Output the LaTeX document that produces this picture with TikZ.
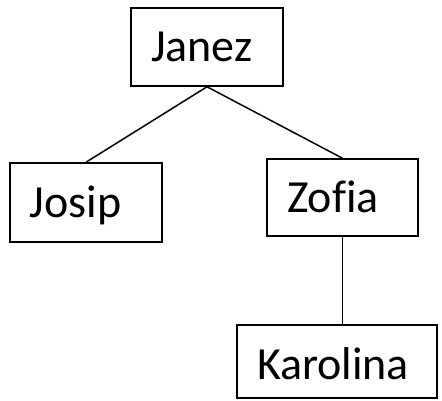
\documentclass[tikz,border=0pt]{standalone}
\usepackage{fontspec}
\setmainfont{Carlito}[Ligatures=NoCommon]
\begin{document}
\begin{tikzpicture}[x=1pt,y=1pt,
  person/.style={draw=black, line width=1.5pt, fill=white, rectangle,
    inner xsep=20pt, inner ysep=0pt, align=left,
    font=\fontsize{46}{54}\selectfont, text height=29.6pt, text depth=0pt},
  link/.style={draw=black, line width=1.5pt}]
\useasboundingbox (0,0) rectangle (442,400);
\node[person, minimum width=152pt, minimum height=78pt, text width=112pt] (janez) at (207,353) {Janez};
\node[person, minimum width=152pt, minimum height=79pt, text width=112pt] (josip) at (86,197.5) {Josip};
\node[person, minimum width=151pt, minimum height=77pt, text width=111pt] (zofia) at (342.5,202.5) {Zofia};
\node[person, minimum width=200pt, minimum height=73pt, text width=160pt, text height=36.6pt] (karolina) at (337,38.5) {Karolina};
\draw[link] (janez.south) -- (josip.north);
\draw[link] (janez.south) -- (zofia.north);
\draw[link] (zofia.south) -- (zofia.south |- karolina.north);
\end{tikzpicture}
\end{document}
